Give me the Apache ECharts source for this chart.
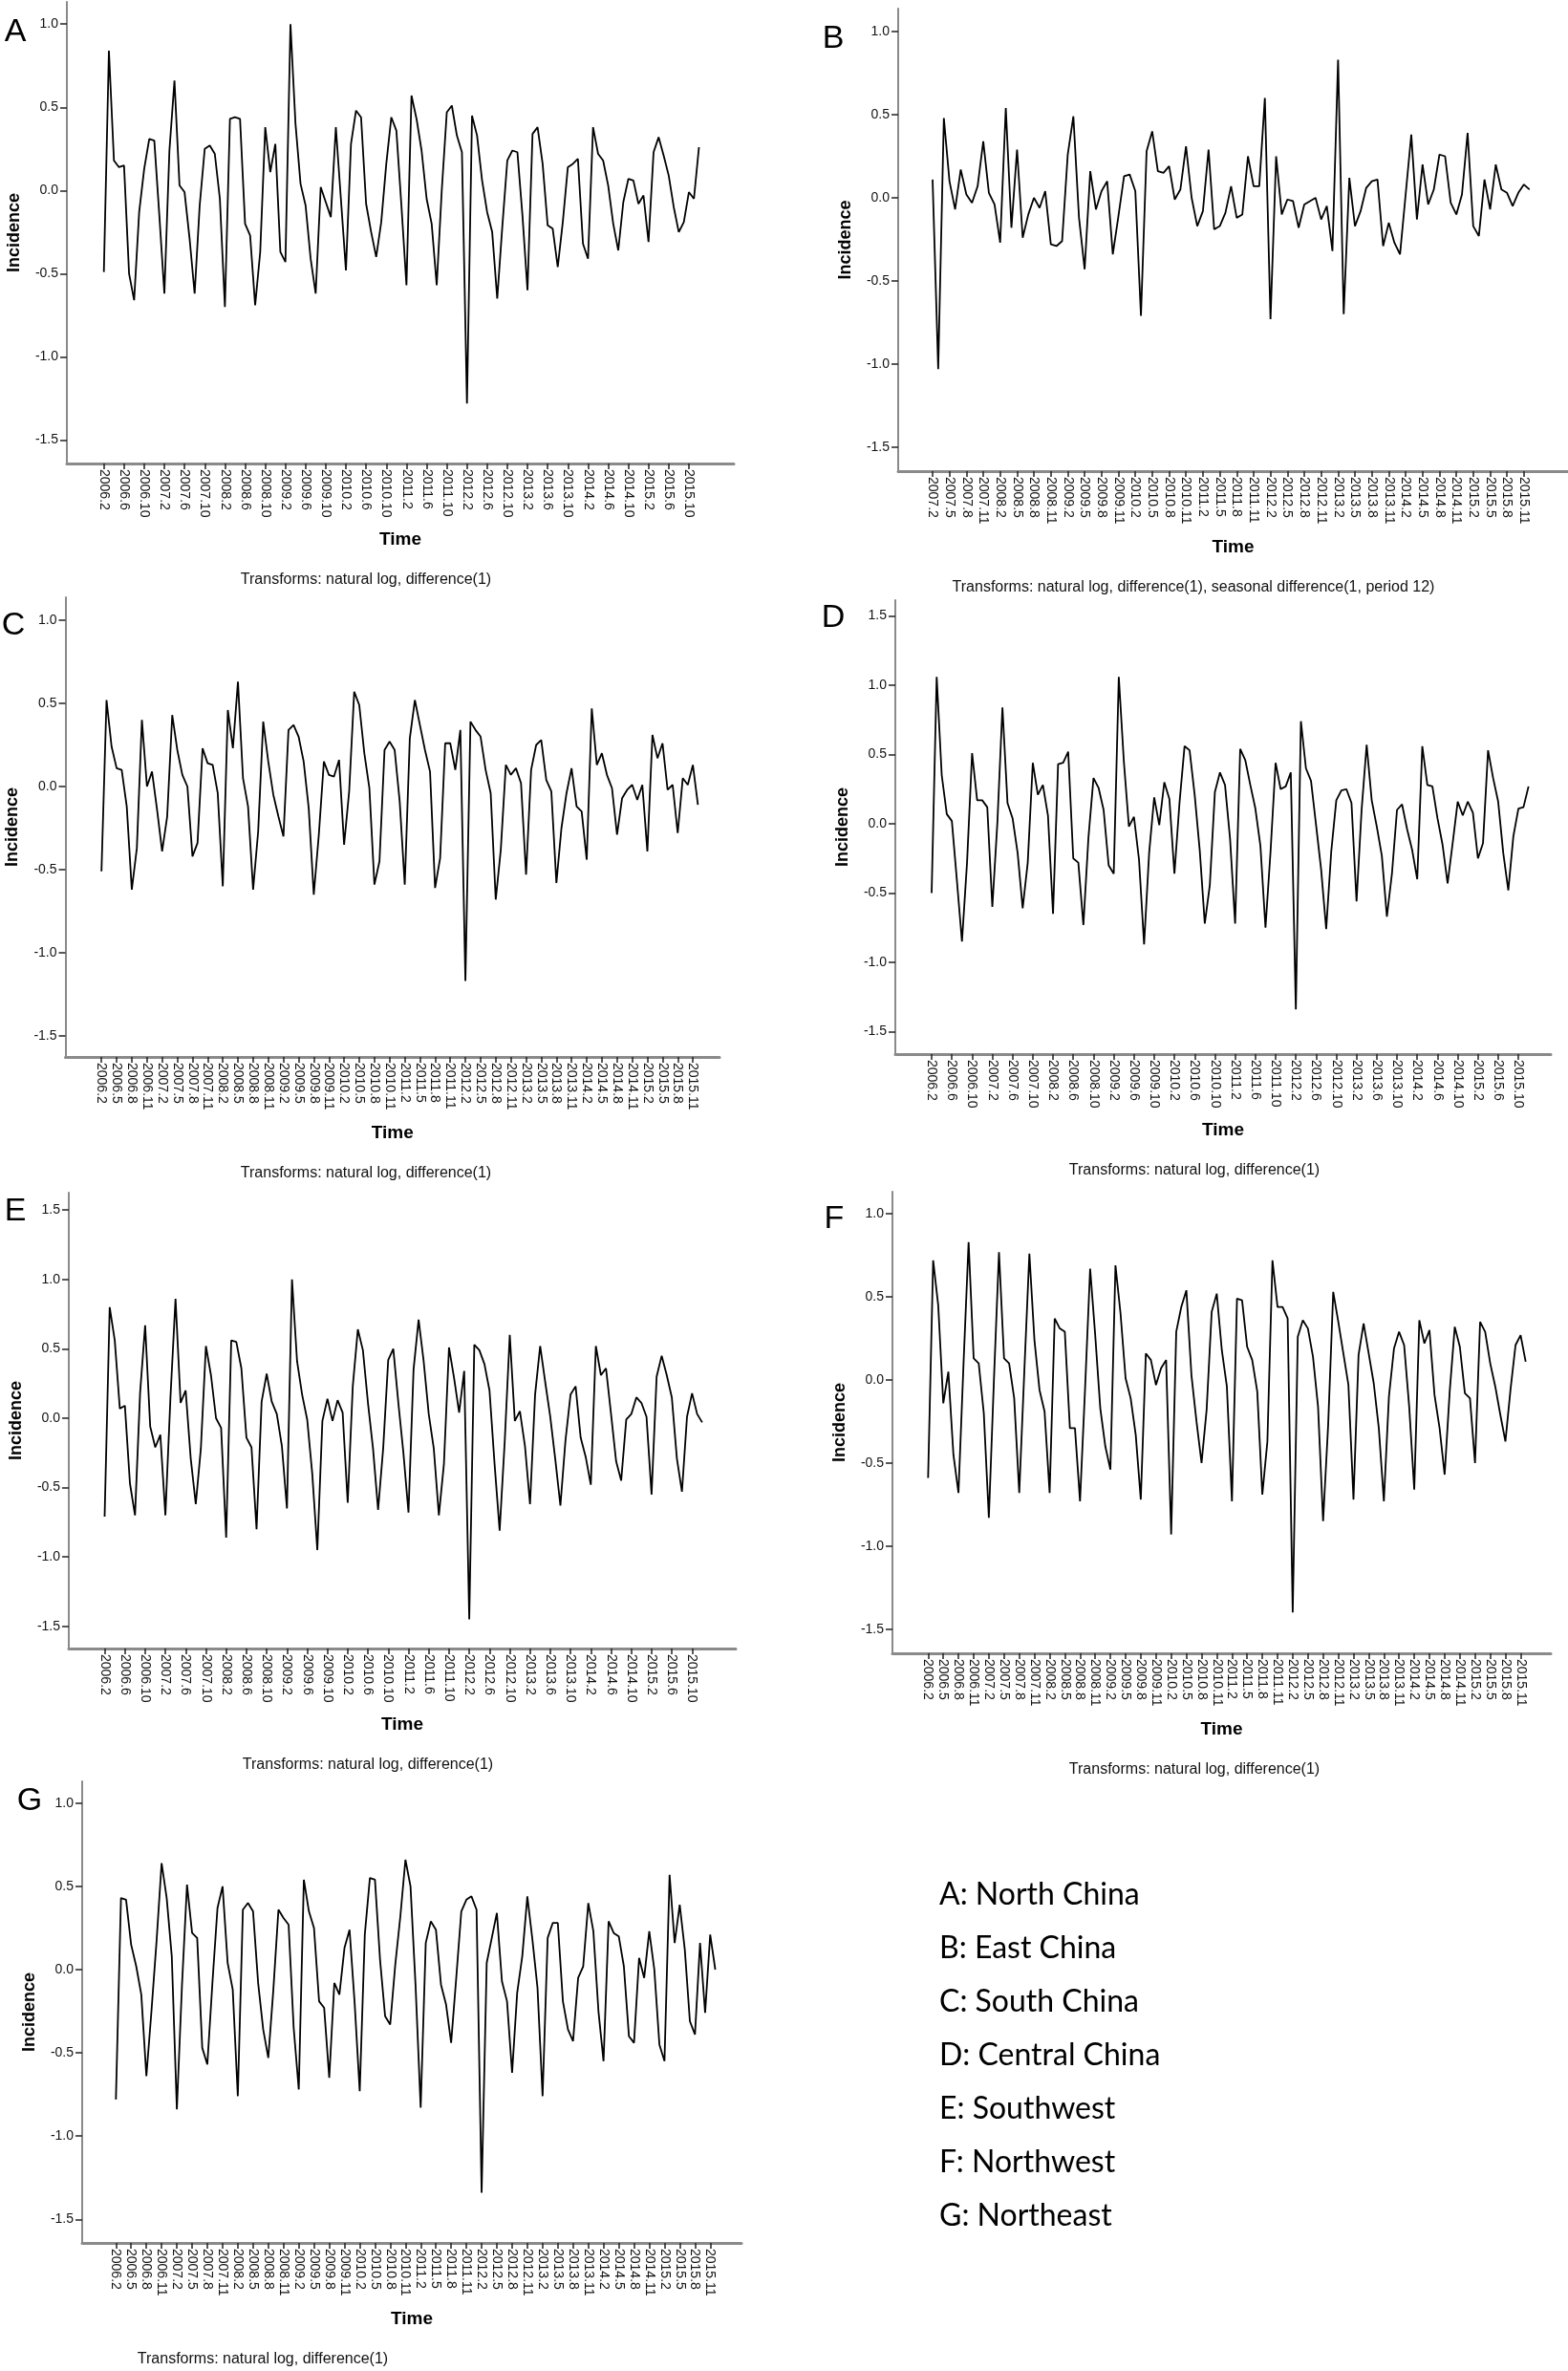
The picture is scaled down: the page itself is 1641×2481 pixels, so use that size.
<!DOCTYPE html>
<html><head><meta charset="utf-8">
<script src="https://cdn.jsdelivr.net/npm/echarts@6/dist/echarts.min.js"></script>
<style>html,body{margin:0;padding:0;background:#fff}#c{width:1641px;height:2481px}</style>
</head><body><div id="c"></div>
<script>
// ---- tick labels ----
const ticksEvery4 = ['2006.2','2006.6','2006.10','2007.2','2007.6','2007.10','2008.2','2008.6','2008.10','2009.2','2009.6','2009.10','2010.2','2010.6','2010.10','2011.2','2011.6','2011.10','2012.2','2012.6','2012.10','2013.2','2013.6','2013.10','2014.2','2014.6','2014.10','2015.2','2015.6','2015.10'];
const ticksEvery3 = ['2006.2','2006.5','2006.8','2006.11','2007.2','2007.5','2007.8','2007.11','2008.2','2008.5','2008.8','2008.11','2009.2','2009.5','2009.8','2009.11','2010.2','2010.5','2010.8','2010.11','2011.2','2011.5','2011.8','2011.11','2012.2','2012.5','2012.8','2012.11','2013.2','2013.5','2013.8','2013.11','2014.2','2014.5','2014.8','2014.11','2015.2','2015.5','2015.8','2015.11'];
const ticksB = ['2007.2','2007.5','2007.8','2007.11','2008.2','2008.5','2008.8','2008.11','2009.2','2009.5','2009.8','2009.11','2010.2','2010.5','2010.8','2010.11','2011.2','2011.5','2011.8','2011.11','2012.2','2012.5','2012.8','2012.11','2013.2','2013.5','2013.8','2013.11','2014.2','2014.5','2014.8','2014.11','2015.2','2015.5','2015.8','2015.11'];
const yTicksShort = [-1.5,-1.0,-0.5,0,0.5,1.0];
const yTicksTall = [-1.5,-1.0,-0.5,0,0.5,1.0,1.5];

// ---- series values (monthly, first value = first tick label) ----
const valuesA = [-0.49,0.84,0.18,0.14,0.15,-0.50,-0.66,-0.13,0.13,0.31,0.30,-0.15,
-0.62,0.24,0.66,0.03,-0.01,-0.29,-0.62,-0.09,0.25,0.27,0.22,-0.05,
-0.70,0.43,0.44,0.43,-0.20,-0.27,-0.69,-0.37,0.38,0.11,0.28,-0.37,
-0.43,1.00,0.40,0.04,-0.09,-0.41,-0.62,0.02,-0.07,-0.16,0.38,-0.05,
-0.48,0.28,0.48,0.44,-0.08,-0.25,-0.40,-0.19,0.16,0.44,0.36,-0.09,
-0.57,0.57,0.43,0.24,-0.05,-0.20,-0.57,0.00,0.47,0.51,0.33,0.23,
-1.28,0.45,0.33,0.06,-0.13,-0.25,-0.65,-0.22,0.18,0.24,0.23,-0.15,
-0.60,0.34,0.38,0.16,-0.21,-0.23,-0.46,-0.19,0.14,0.16,0.19,-0.32,
-0.41,0.38,0.22,0.18,0.03,-0.20,-0.36,-0.07,0.07,0.06,-0.08,-0.03,
-0.31,0.23,0.32,0.21,0.09,-0.10,-0.25,-0.19,-0.01,-0.05,0.26];
const valuesB = [0.11,-1.03,0.48,0.10,-0.07,0.17,0.02,-0.03,0.07,0.34,0.03,-0.04,
-0.27,0.54,-0.18,0.29,-0.24,-0.10,0.00,-0.06,0.04,-0.28,-0.29,-0.26,
0.26,0.49,-0.12,-0.43,0.16,-0.07,0.04,0.10,-0.34,-0.11,0.13,0.14,
0.04,-0.71,0.28,0.40,0.16,0.15,0.19,-0.01,0.05,0.31,0.00,-0.17,
-0.08,0.29,-0.19,-0.17,-0.09,0.07,-0.12,-0.10,0.25,0.07,0.07,0.60,
-0.73,0.25,-0.10,-0.01,-0.02,-0.18,-0.04,-0.02,0.00,-0.13,-0.05,-0.32,
0.83,-0.70,0.12,-0.17,-0.08,0.06,0.10,0.11,-0.29,-0.15,-0.27,-0.34,
0.02,0.38,-0.13,0.20,-0.04,0.05,0.26,0.25,-0.03,-0.10,0.02,0.39,
-0.17,-0.23,0.11,-0.07,0.20,0.05,0.03,-0.05,0.03,0.08,0.05];
const valuesC = [-0.51,0.52,0.24,0.11,0.10,-0.12,-0.62,-0.37,0.40,0.00,0.09,-0.14,
-0.39,-0.18,0.43,0.22,0.07,0.00,-0.42,-0.34,0.23,0.14,0.13,-0.04,
-0.60,0.46,0.23,0.63,0.05,-0.12,-0.62,-0.27,0.39,0.15,-0.05,-0.18,
-0.30,0.34,0.37,0.30,0.15,-0.13,-0.65,-0.29,0.15,0.07,0.06,0.16,
-0.35,-0.03,0.57,0.49,0.20,-0.01,-0.59,-0.45,0.22,0.27,0.22,-0.09,
-0.59,0.29,0.52,0.37,0.22,0.09,-0.61,-0.43,0.26,0.26,0.10,0.34,
-1.17,0.39,0.34,0.30,0.10,-0.04,-0.68,-0.38,0.13,0.07,0.11,0.02,
-0.53,0.10,0.25,0.28,0.04,-0.03,-0.58,-0.25,-0.04,0.11,-0.12,-0.15,
-0.44,0.47,0.13,0.20,0.07,-0.01,-0.29,-0.07,-0.02,0.01,-0.08,0.01,
-0.39,0.31,0.17,0.26,-0.02,0.01,-0.28,0.05,0.01,0.13,-0.11];
const valuesD = [-0.50,1.06,0.35,0.07,0.02,-0.41,-0.85,-0.28,0.51,0.17,0.17,0.12,
-0.60,0.01,0.84,0.15,0.04,-0.21,-0.61,-0.28,0.44,0.21,0.28,0.06,
-0.65,0.43,0.44,0.52,-0.25,-0.28,-0.73,-0.10,0.33,0.26,0.10,-0.30,
-0.36,1.06,0.45,-0.02,0.05,-0.26,-0.87,-0.21,0.19,-0.01,0.30,0.18,
-0.36,0.15,0.56,0.53,0.21,-0.19,-0.72,-0.44,0.23,0.37,0.28,-0.11,
-0.72,0.54,0.46,0.28,0.11,-0.16,-0.75,-0.20,0.44,0.25,0.27,0.37,
-1.34,0.74,0.40,0.31,-0.01,-0.33,-0.76,-0.20,0.17,0.24,0.25,0.15,
-0.56,0.10,0.57,0.17,-0.02,-0.23,-0.67,-0.36,0.10,0.14,-0.04,-0.19,
-0.40,0.56,0.28,0.27,0.04,-0.15,-0.43,-0.14,0.16,0.06,0.16,0.08,
-0.25,-0.14,0.53,0.33,0.16,-0.21,-0.48,-0.09,0.11,0.12,0.27];
const valuesE = [-0.71,0.80,0.56,0.07,0.09,-0.47,-0.70,0.18,0.67,-0.06,-0.21,-0.12,
-0.70,0.15,0.86,0.11,0.20,-0.29,-0.62,-0.22,0.52,0.31,0.00,-0.07,
-0.86,0.56,0.55,0.36,-0.14,-0.21,-0.80,0.12,0.32,0.12,0.03,-0.20,
-0.65,1.00,0.41,0.17,-0.01,-0.40,-0.95,-0.02,0.14,-0.02,0.13,0.04,
-0.61,0.23,0.64,0.49,0.11,-0.22,-0.66,-0.22,0.42,0.50,0.11,-0.25,
-0.68,0.35,0.71,0.41,0.03,-0.22,-0.70,-0.33,0.51,0.29,0.04,0.34,
-1.45,0.53,0.49,0.39,0.20,-0.33,-0.81,-0.17,0.60,-0.02,0.05,-0.20,
-0.62,0.17,0.52,0.26,0.01,-0.30,-0.63,-0.16,0.17,0.23,-0.14,-0.28,
-0.48,0.52,0.31,0.36,0.03,-0.31,-0.45,-0.01,0.03,0.15,0.11,0.01,
-0.55,0.30,0.45,0.31,0.15,-0.29,-0.53,0.01,0.18,0.03,-0.03];
const valuesF = [-0.59,0.72,0.45,-0.14,0.05,-0.45,-0.68,0.10,0.83,0.13,0.10,-0.20,
-0.83,0.00,0.77,0.13,0.10,-0.11,-0.68,0.05,0.76,0.24,-0.06,-0.19,
-0.68,0.37,0.31,0.29,-0.29,-0.29,-0.73,-0.05,0.67,0.27,-0.17,-0.40,
-0.54,0.69,0.40,0.01,-0.11,-0.33,-0.72,0.16,0.12,-0.03,0.07,0.12,
-0.93,0.29,0.44,0.54,0.03,-0.25,-0.50,-0.18,0.41,0.52,0.18,-0.04,
-0.73,0.49,0.48,0.20,0.12,-0.07,-0.69,-0.37,0.72,0.44,0.44,0.37,
-1.40,0.26,0.36,0.31,0.14,-0.16,-0.85,-0.27,0.53,0.35,0.16,-0.03,
-0.72,0.15,0.34,0.16,-0.02,-0.29,-0.73,-0.10,0.19,0.29,0.21,-0.16,
-0.66,0.36,0.22,0.30,-0.09,-0.29,-0.57,-0.07,0.32,0.20,-0.08,-0.11,
-0.50,0.35,0.29,0.10,-0.04,-0.21,-0.37,-0.06,0.21,0.27,0.11];
const valuesG = [-0.78,0.43,0.42,0.15,0.02,-0.15,-0.64,-0.25,0.17,0.64,0.43,0.08,
-0.84,-0.10,0.51,0.22,0.19,-0.47,-0.57,-0.08,0.37,0.50,0.04,-0.12,
-0.76,0.36,0.40,0.35,-0.08,-0.36,-0.53,-0.12,0.36,0.31,0.27,-0.35,
-0.72,0.54,0.35,0.25,-0.19,-0.23,-0.65,-0.08,-0.15,0.13,0.24,-0.20,
-0.73,0.21,0.55,0.54,0.06,-0.28,-0.33,0.03,0.32,0.66,0.50,-0.10,
-0.83,0.16,0.29,0.24,-0.09,-0.21,-0.44,-0.05,0.35,0.42,0.44,0.36,
-1.34,0.04,0.19,0.34,-0.07,-0.19,-0.62,-0.14,0.08,0.44,0.18,-0.11,
-0.76,0.19,0.28,0.28,-0.19,-0.36,-0.43,-0.05,0.02,0.40,0.23,-0.25,
-0.55,0.29,0.22,0.20,0.02,-0.40,-0.44,0.07,-0.05,0.23,0.00,-0.45,
-0.55,0.57,0.16,0.39,0.12,-0.31,-0.39,0.16,-0.26,0.21,0.00];

const captionSimple = 'Transforms: natural log, difference(1)';
const captionSeasonal = 'Transforms: natural log, difference(1), seasonal difference(1, period 12)';
const legendLines = ['A: North China','B: East China','C: South China','D: Central China','E: Southwest','F: Northwest','G: Northeast'];

// ---- layout (pixels) ----
const panels = [
 {letter:'A', values:valuesA, labels:ticksEvery4, step:4, yTicks:yTicksShort, caption:captionSimple,
  axisX:70, top:2, axisY:485, right:768, x0:108.7, ppm:5.278, y0:199.3, ppu:174.1,
  letterPos:[16,34], capX:383},
 {letter:'B', values:valuesB, labels:ticksB, step:3, yTicks:yTicksShort, caption:captionSeasonal,
  axisX:940, top:9, axisY:493, right:1641, x0:976, ppm:5.894, y0:207, ppu:174,
  letterPos:[872,41], capX:1249},
 {letter:'C', values:valuesC, labels:ticksEvery3, step:3, yTicks:yTicksShort, caption:captionSimple,
  axisX:68.5, top:625, axisY:1106, right:753, x0:106.2, ppm:5.29, y0:823, ppu:174,
  letterPos:[14,655], capX:383},
 {letter:'D', values:valuesD, labels:ticksEvery4, step:4, yTicks:yTicksTall, caption:captionSimple,
  axisX:937, top:628, axisY:1103, right:1623, x0:975, ppm:5.294, y0:862, ppu:145,
  letterPos:[872,647], capX:1250},
 {letter:'E', values:valuesE, labels:ticksEvery4, step:4, yTicks:yTicksTall, caption:captionSimple,
  axisX:72, top:1248, axisY:1725, right:770, x0:109.5, ppm:5.30, y0:1484, ppu:145.2,
  letterPos:[16,1268], capX:385},
 {letter:'F', values:valuesF, labels:ticksEvery3, step:3, yTicks:yTicksShort, caption:captionSimple,
  axisX:934, top:1247, axisY:1730, right:1623, x0:971.3, ppm:5.30, y0:1444, ppu:173.8,
  letterPos:[873,1276], capX:1250},
 {letter:'G', values:valuesG, labels:ticksEvery3, step:3, yTicks:yTicksShort, caption:captionSimple,
  axisX:86, top:1864, axisY:2347, right:776, x0:121.3, ppm:5.316, y0:2061, ppu:174.2,
  letterPos:[31,1885], capX:275}
];

const FONT = '"Liberation Sans", Arial, sans-serif';
const grid = [], xAxis = [], yAxis = [], series = [], graphic = [];

panels.forEach((p, i) => {
  grid.push({left:p.axisX, top:p.top, width:p.right - p.axisX, height:p.axisY - p.top});
  const xTickVals = p.labels.map((_, k) => k * p.step);
  xAxis.push({
    gridIndex:i, type:'value',
    min:-(p.x0 - p.axisX) / p.ppm, max:(p.right - p.x0) / p.ppm,
    axisLine:{show:true, onZero:false, lineStyle:{color:'#8a8a8a', width:3}},
    axisTick:{show:true, customValues:xTickVals, length:6, lineStyle:{color:'#222', width:1.5}},
    axisLabel:{show:true, customValues:xTickVals, rotate:-90, margin:6, fontSize:14, fontFamily:FONT, color:'#111',
      formatter:(v) => p.labels[Math.round(v / p.step)] || ''},
    splitLine:{show:false}
  });
  yAxis.push({
    gridIndex:i, type:'value',
    min:-(p.axisY - p.y0) / p.ppu, max:(p.y0 - p.top) / p.ppu,
    axisLine:{show:true, onZero:false, lineStyle:{color:'#8a8a8a', width:2}},
    axisTick:{show:true, customValues:p.yTicks, length:7, lineStyle:{color:'#222', width:1.5}},
    axisLabel:{show:true, customValues:p.yTicks, margin:9, fontSize:14, fontFamily:FONT, color:'#111',
      formatter:(v) => (Math.abs(v) < 1e-9 ? 0 : v).toFixed(1)},
    splitLine:{show:false}
  });
  series.push({
    type:'line', xAxisIndex:i, yAxisIndex:i,
    data:p.values.map((v, k) => [k, v]),
    showSymbol:false, symbol:'none', silent:true,
    lineStyle:{color:'#000', width:1.8}
  });
  graphic.push({type:'text', x:p.letterPos[0], y:p.letterPos[1], silent:true,
    style:{text:p.letter, font:'34px "Liberation Sans Narrow", "Liberation Sans", Arial, sans-serif', fill:'#000', align:'center', verticalAlign:'middle'}});
  graphic.push({type:'text', x:p.axisX - 55, y:(p.top + p.axisY) / 2, rotation:Math.PI / 2, silent:true,
    style:{text:'Incidence', font:'bold 18px ' + FONT, fill:'#000', align:'center', verticalAlign:'middle'}});
  graphic.push({type:'text', x:(p.axisX + p.right) / 2, y:p.axisY + 80, silent:true,
    style:{text:'Time', font:'bold 19px ' + FONT, fill:'#000', align:'center', verticalAlign:'middle'}});
  graphic.push({type:'text', x:p.capX, y:p.axisY + 122, silent:true,
    style:{text:p.caption, font:'16px ' + FONT, fill:'#111', align:'center', verticalAlign:'middle'}});
});

legendLines.forEach((t, k) => {
  graphic.push({type:'text', x:983, y:1983 + 56 * k, silent:true,
    style:{text:t, font:'32px Lato, "Open Sans", sans-serif', fill:'#000', align:'left', verticalAlign:'middle'}});
});

const chart = echarts.init(document.getElementById('c'), null, {renderer:'canvas'});
chart.setOption({animation:false, backgroundColor:'#fff', grid, xAxis, yAxis, series, graphic});
</script>
</body></html>
